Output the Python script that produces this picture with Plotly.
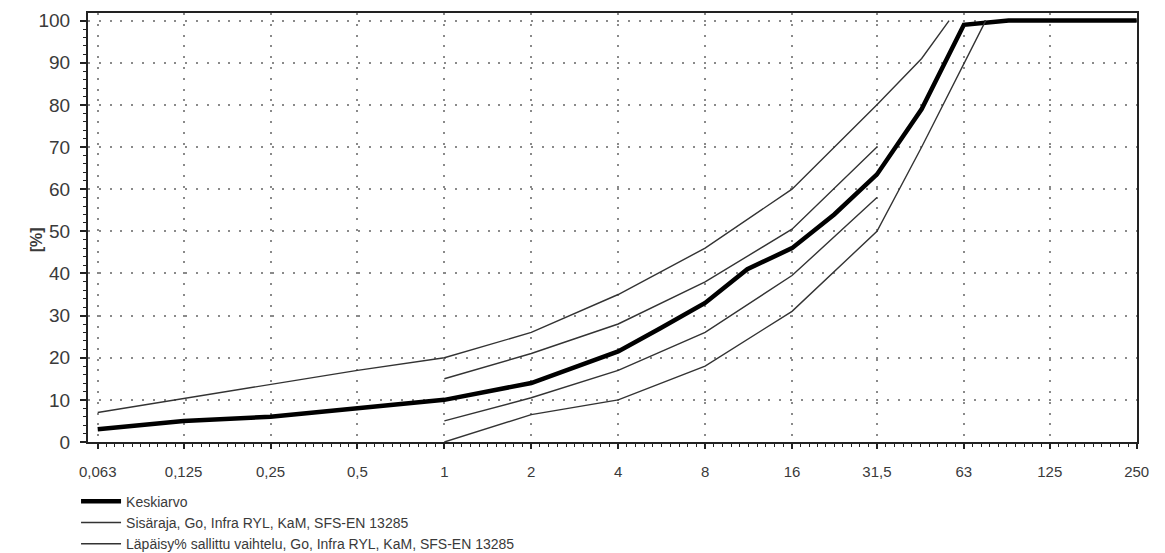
import plotly.graph_objects as go

# ---- data ----
sieve_ticks = [0.063, 0.125, 0.25, 0.5, 1, 2, 4, 8, 16, 31.5, 63, 125, 250]
sieve_labels = ["0,063", "0,125", "0,25", "0,5", "1", "2", "4", "8", "16", "31,5", "63", "125", "250"]

mean_x = [0.063, 0.125, 0.25, 0.5, 1, 2, 4, 5.6, 8, 11.2, 16, 22.4, 31.5, 45, 63, 90, 125, 250]
mean_y = [3, 5, 6, 8, 10, 14, 21.5, 27, 33, 41, 46, 54, 63.5, 79, 99, 100, 100, 100]

sis_up_x = [0.063, 0.125, 0.25, 0.5, 1, 2, 4, 8, 16, 31.5, 45, 56]
sis_up_y = [7, 10.3, 13.7, 17, 20, 26, 35, 46, 60, 80, 91, 100]
sis_lo_x = [1, 2, 4, 8, 16, 31.5, 45, 63, 75]
sis_lo_y = [0, 6.5, 10, 18, 31, 50, 70, 90, 100]

var_up_x = [1, 2, 4, 8, 16, 31.5]
var_up_y = [15, 21, 28, 38, 50.5, 70]
var_lo_x = [1, 2, 4, 8, 16, 31.5]
var_lo_y = [5, 10.5, 17, 26, 39.5, 58]

names = ["Keskiarvo",
         "Sisäraja, Go, Infra RYL, KaM, SFS-EN 13285",
         "Läpäisy% sallittu vaihtelu, Go, Infra RYL, KaM, SFS-EN 13285"]

# ---- styling helpers ----
FONT = "Liberation Sans, Arial, sans-serif"
TXT = "#3a3a3a"
AX = "#222222"
xr = [-1.23426, 2.39898]
yr = [0, 101.8]

# minor tick positions: 10 log-equal steps inside each octave
minor_x = []
for a, b in zip(sieve_ticks[:-1], sieve_ticks[1:]):
    for k in range(1, 10):
        minor_x.append(a * (b / a) ** (k / 10))

fig = go.Figure()
fig.add_trace(go.Scatter(x=mean_x, y=mean_y, mode="lines", name=names[0],
                         line=dict(color="#000000", width=4.5)))
fig.add_trace(go.Scatter(x=sis_up_x + [None] + sis_lo_x, y=sis_up_y + [None] + sis_lo_y,
                         mode="lines", name=names[1], connectgaps=False,
                         line=dict(color="#333333", width=1.4)))
fig.add_trace(go.Scatter(x=var_up_x + [None] + var_lo_x, y=var_up_y + [None] + var_lo_y,
                         mode="lines", name=names[2], connectgaps=False,
                         line=dict(color="#333333", width=1.4)))

grid = dict(showgrid=True, gridcolor="#8a8a8a", gridwidth=1.5, griddash="2px,8.8px")
common = dict(automargin=False, zeroline=False)

# the page body adds an 8px offset, so the figure is 8px smaller each way
fig.update_layout(
    template="none",
    width=1157, height=545,
    margin=dict(l=80, r=28, t=5, b=111, pad=0, autoexpand=False),
    paper_bgcolor="white", plot_bgcolor="white",
    font=dict(family=FONT, color=TXT),
    showlegend=True,
    legend=dict(x=-0.0114, y=-0.102, xanchor="left", yanchor="top",
                font=dict(size=14, color=TXT, family=FONT),
                bgcolor="rgba(0,0,0,0)", borderwidth=0, tracegroupgap=0, itemwidth=40),
    xaxis=dict(type="log", range=xr, tickmode="array", tickvals=sieve_ticks, ticktext=sieve_labels,
               ticks="outside", ticklen=5, tickwidth=1.5, tickcolor=AX,
               minor=dict(tickmode="array", tickvals=minor_x, ticks="outside", ticklen=3,
                          tickcolor=AX, tickwidth=1, showgrid=False),
               showline=True, linecolor=AX, linewidth=2, mirror=True,
               tickfont=dict(size=15, color=TXT), ticklabelstandoff=10,
               **common, **grid),
    xaxis2=dict(type="log", range=xr, overlaying="x", side="top", anchor="y",
                tickmode="array", tickvals=sieve_ticks, showticklabels=False,
                ticks="inside", ticklen=7, tickwidth=1.5, tickcolor=AX,
                minor=dict(tickmode="array", tickvals=minor_x, ticks="inside", ticklen=4,
                           tickcolor=AX, tickwidth=1, showgrid=False),
                showgrid=False, showline=False, **common),
    xaxis3=dict(type="log", range=xr, overlaying="x", side="bottom", anchor="y",
                tickmode="array", tickvals=sieve_ticks, showticklabels=False,
                ticks="inside", ticklen=5, tickwidth=1.5, tickcolor=AX,
                showgrid=False, showline=False, **common),
    yaxis=dict(range=yr, tickmode="linear", tick0=0, dtick=10,
               ticks="outside", ticklen=6, tickwidth=1.5, tickcolor=AX,
               minor=dict(dtick=2, ticks="outside", ticklen=3, tickcolor=AX, tickwidth=1, showgrid=False),
               showline=True, linecolor=AX, linewidth=2, mirror=True,
               tickfont=dict(size=19, color=TXT), ticklabelstandoff=6,
               **common, **grid),
    yaxis2=dict(range=yr, overlaying="y", side="right", anchor="x",
                tickmode="linear", tick0=0, dtick=10, showticklabels=False,
                ticks="inside", ticklen=7, tickwidth=1.5, tickcolor=AX,
                minor=dict(dtick=2, ticks="inside", ticklen=4, tickcolor=AX, tickwidth=1, showgrid=False),
                showgrid=False, showline=False, **common),
    yaxis3=dict(range=yr, overlaying="y", side="left", anchor="x",
                tickmode="linear", tick0=0, dtick=10, showticklabels=False,
                ticks="inside", ticklen=9, tickwidth=1.5, tickcolor=AX,
                minor=dict(dtick=2, ticks="inside", ticklen=5, tickcolor=AX, tickwidth=1, showgrid=False),
                showgrid=False, showline=False, **common),
    annotations=[dict(text="<b>[%]</b>", textangle=-90, xref="paper", yref="paper",
                      x=0, y=0.47, xshift=-52, xanchor="center", yanchor="middle",
                      showarrow=False, font=dict(size=16, color=TXT, family=FONT))],
)

fig.write_html("out.html")
